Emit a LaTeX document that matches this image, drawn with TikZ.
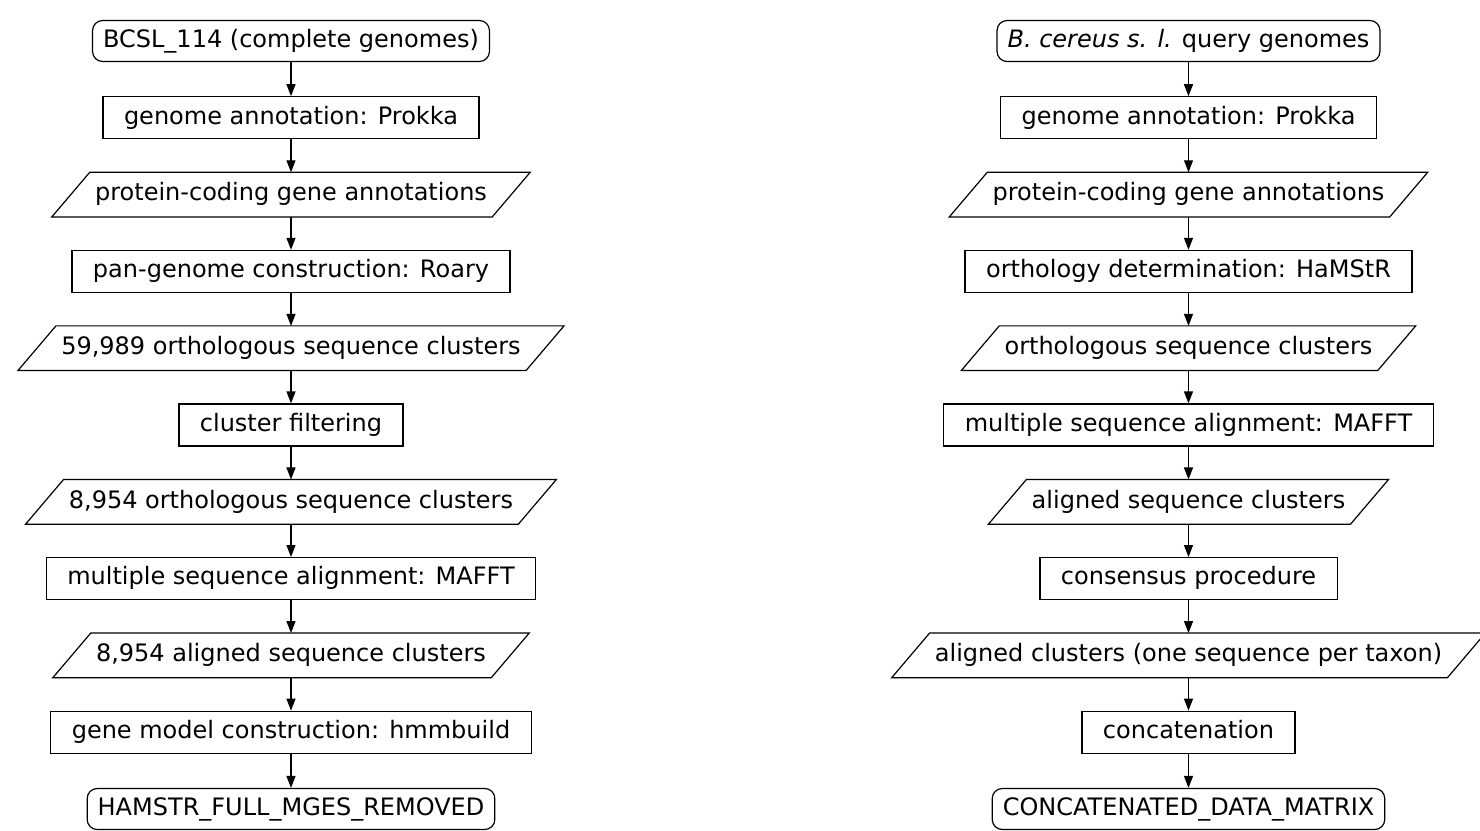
\documentclass[tikz,border=0pt]{standalone}
\usepackage{fontspec}
\setmainfont{DejaVu Sans}
\usetikzlibrary{arrows.meta}
\begin{document}
\begin{tikzpicture}[x=0.5pt,y=-0.5pt,
  every node/.style={font=\fontsize{12}{14}\selectfont, inner ysep=0pt, anchor=center, text height=8.9pt, text depth=2.6pt},
  term/.style={draw, rounded corners=5pt, minimum height=20.5pt, inner xsep=5.25pt},
  proc/.style={draw, minimum height=21pt, inner xsep=10.5pt},
  data/.style={minimum height=21.75pt, inner xsep=11.85pt},
  flow/.style={-{Triangle[length=6pt,width=4.5pt]}},
  line width=0.6pt]
\useasboundingbox (0,0) rectangle (1480,831);
% left column
\node[term] (L1)  at (291,41)    {BCSL\_114 (complete genomes)};
\node[proc] (L2)  at (291,117.8) {genome annotation: Prokka};
\node[data] (L3)  at (291,194.6) {protein-coding gene annotations};
\node[proc] (L4)  at (291,271.4) {pan-genome construction: Roary};
\node[data] (L5)  at (291,348.2) {59,989 orthologous sequence clusters};
\node[proc] (L6)  at (291,425)   {cluster filtering};
\node[data] (L7)  at (291,501.8) {8,954 orthologous sequence clusters};
\node[proc] (L8)  at (291,578.6) {multiple sequence alignment: MAFFT};
\node[data] (L9)  at (291,655.4) {8,954 aligned sequence clusters};
\node[proc] (L10) at (291,732.2) {gene model construction: hmmbuild};
\node[term] (L11) at (291,809)   {HAMSTR\_FULL\_MGES\_REMOVED};
% right column
\node[term] (R1)  at (1188.5,41)    {\textit{B. cereus s. l.} query genomes};
\node[proc] (R2)  at (1188.5,117.8) {genome annotation: Prokka};
\node[data] (R3)  at (1188.5,194.6) {protein-coding gene annotations};
\node[proc] (R4)  at (1188.5,271.4) {orthology determination: HaMStR};
\node[data] (R5)  at (1188.5,348.2) {orthologous sequence clusters};
\node[proc] (R6)  at (1188.5,425)   {multiple sequence alignment: MAFFT};
\node[data] (R7)  at (1188.5,501.8) {aligned sequence clusters};
\node[proc] (R8)  at (1188.5,578.6) {consensus procedure};
\node[data] (R9)  at (1188.5,655.4) {aligned clusters (one sequence per taxon)};
\node[proc] (R10) at (1188.5,732.2) {concatenation};
\node[term] (R11) at (1188.5,809)   {CONCATENATED\_DATA\_MATRIX};
% parallelogram outlines
\foreach \n in {L3,L5,L7,L9,R3,R5,R7,R9}
  \draw ([xshift=-9.5pt]\n.south west) -- ([xshift=9.5pt]\n.north west)
        -- ([xshift=9.5pt]\n.north east) -- ([xshift=-9.5pt]\n.south east) -- cycle;
% connectors
\foreach \a/\b in {1/2,2/3,3/4,4/5,5/6,6/7,7/8,8/9,9/10,10/11} {
  \draw[flow] (L\a) -- (L\b);
  \draw[flow] (R\a) -- (R\b);
}
\end{tikzpicture}
\end{document}
